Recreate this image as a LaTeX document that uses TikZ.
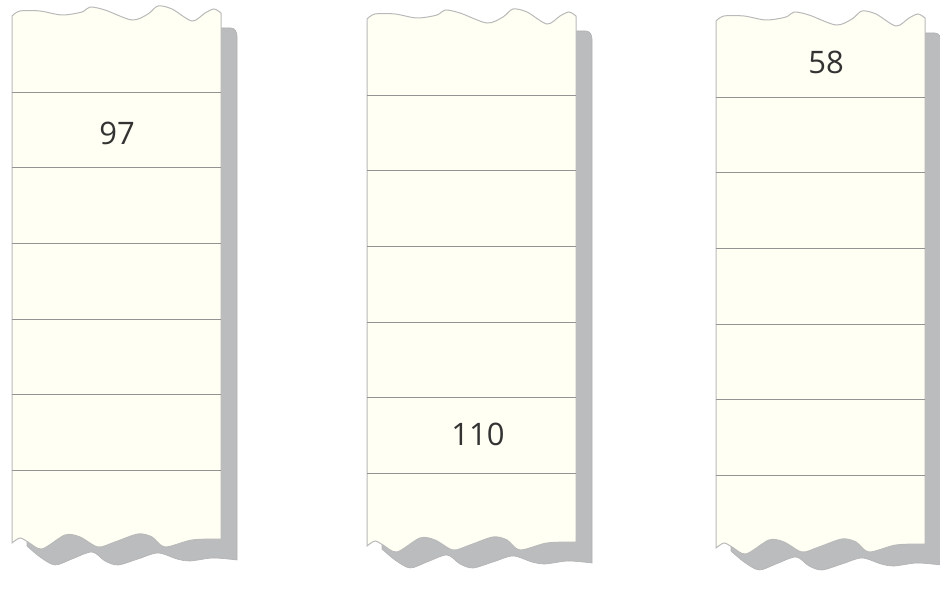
\documentclass[tikz,border=0pt]{standalone}
\usepackage{fontspec}
\setmainfont{Open Sans}
\usepackage{tikz}
\definecolor{shadowgray}{RGB}{186,188,190}
\definecolor{papercream}{RGB}{255,255,244}

\begin{document}
\begin{tikzpicture}[
  x=1pt,y=-1pt,
  paper/.style={
    draw=gray!55,
    line width=1pt,
    fill=papercream
  },
  shade/.style={fill=shadowgray,draw=gray!60,line width=0.6pt},
  rule/.style={draw=gray!85,line width=0.7pt},
  num/.style={font=\fontsize{31}{36}\selectfont,text=black!80}
]
\useasboundingbox (0,0) rectangle (940,602);
\clip (0,0) rectangle (940,602);

\foreach \sx/\sy in {0/0,355/3,704/5}{
  \begin{scope}[shift={(\sx,\sy)}]
    % shadow behind the strip
    \path[shade] (215,28) -- (231,28) to[out=0,in=90] (237,36)
      -- plot[smooth] coordinates {(237,560) (213,558) (190,561) (177,559)
        (158,553) (138,559) (118,565) (105,561) (92,552) (72,559) (55,565)
        (40,557) (27,546)}
      -- (27,520) -- (215,520) -- cycle;
    % torn paper strip
    \path[paper] plot[smooth] coordinates {(12,16) (20,11) (40,11) (62,15)
        (82,12) (90,7) (105,10) (132,20) (148,14) (158,6) (172,9) (192,21)
        (205,13) (214,9) (221,13)}
      -- (221,539)
      -- plot[smooth] coordinates {(221,539) (192,540) (165,547) (152,537)
        (138,534) (115,542) (98,547) (80,537) (65,535) (42,549) (28,542)
        (20,538) (12,543)}
      -- cycle;
    \foreach \k in {1,...,6}
      \draw[rule] (12,{16.5+75.6*\k}) -- (221,{16.5+75.6*\k});
  \end{scope}
}

\node[num] (n97) at (117,133) {97};
\node[num] (n110) at (478,434) {110};
\node[num] (n58) at (826,62) {58};
\end{tikzpicture}
\end{document}
